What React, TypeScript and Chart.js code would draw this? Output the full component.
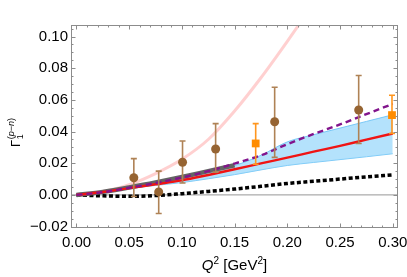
import React, { useEffect, useRef } from "react";
import { Chart, registerables } from "chart.js";

Chart.register(...registerables);

// ---------- data ----------
const curveQ2 = [0, 0.025, 0.05, 0.075, 0.1, 0.125, 0.15, 0.175, 0.2, 0.225, 0.25, 0.275, 0.3];
const redCurve = [0, 0.0018, 0.0043, 0.0067, 0.0092, 0.0126, 0.0162, 0.0199, 0.0235, 0.0273, 0.031, 0.0349, 0.0388];
const bandUpper = [0, 0.0019, 0.0046, 0.0074, 0.0107, 0.0145, 0.0185, 0.025, 0.0335, 0.038, 0.0422, 0.0464, 0.0506];
const bandLower = [0, 0.0017, 0.004, 0.006, 0.0078, 0.0102, 0.0128, 0.0158, 0.0186, 0.0205, 0.0223, 0.0241, 0.026];
const purpleCurve = [0, 0.0017, 0.0045, 0.0075, 0.011, 0.015, 0.0198, 0.025, 0.032, 0.0385, 0.0445, 0.051, 0.0575];
const blackCurve = [0, -0.0006, -0.0009, -0.0004, 0.0008, 0.0022, 0.0037, 0.0054, 0.0072, 0.0086, 0.01, 0.0114, 0.0127];
const pinkCurve = [0, 0.0022, 0.0065, 0.0135, 0.0225, 0.035, 0.053, 0.074, 0.097, 0.121];
const grayQ2 = [0, 0.025, 0.05, 0.075, 0.1, 0.125, 0.15];
const grayCurve = [0, 0.0019, 0.0047, 0.0078, 0.0113, 0.015, 0.0187];

const brownQ2 = [0.0544, 0.078, 0.1006, 0.132, 0.188, 0.2677];
const brownVal = [0.0108, 0.0019, 0.0206, 0.029, 0.0462, 0.0536];
const brownLo = [-0.001, -0.0117, 0.0075, 0.0144, 0.0237, 0.0325];
const brownHi = [0.0229, 0.015, 0.034, 0.045, 0.068, 0.0754];

const orangeQ2 = [0.17, 0.2993];
const orangeVal = [0.0325, 0.0504];
const orangeLo = [0.0194, 0.0388];
const orangeHi = [0.045, 0.0629];

const xTicks = [0, 0.05, 0.1, 0.15, 0.2, 0.25, 0.3];
const yTicks = [-0.02, 0, 0.02, 0.04, 0.06, 0.08, 0.1];
const xMinorStep = 0.01;
const yMinorStep = 0.005;

const X_MIN = -0.0052;
const X_MAX = 0.305;
const Y_MIN = -0.0209;
const Y_MAX = 0.1073;

const FONT = "'Liberation Sans', Arial, Helvetica, sans-serif";

const pts = (xs: number[], ys: number[]) => ys.map((y, i) => ({ x: xs[i], y }));

const fmt = (v: number) => {
  const s = Math.abs(v).toFixed(2);
  return (v < -1e-9 ? "\u2212" : "") + s;
};

const framePlugin = {
  id: "frameTicks",
  beforeDatasetDraw(chart: any, args: any) {
    const ds = chart.data.datasets[args.index];
    const err = ds.errorBars;
    if (!err) return;
    const { ctx, chartArea } = chart;
    const xS = chart.scales.x;
    const yS = chart.scales.y;
    ctx.save();
    ctx.beginPath();
    ctx.rect(chartArea.left, chartArea.top, chartArea.right - chartArea.left, chartArea.bottom - chartArea.top);
    ctx.clip();
    ctx.strokeStyle = err.color;
    ctx.lineWidth = 1.6;
    ds.data.forEach((p: any, i: number) => {
      const px = xS.getPixelForValue(p.x);
      const t = yS.getPixelForValue(err.hi[i]);
      const b = yS.getPixelForValue(err.lo[i]);
      ctx.beginPath();
      ctx.moveTo(px, t);
      ctx.lineTo(px, b);
      ctx.moveTo(px - 3, t);
      ctx.lineTo(px + 3, t);
      ctx.moveTo(px - 3, b);
      ctx.lineTo(px + 3, b);
      ctx.stroke();
    });
    ctx.restore();
  },
  afterDraw(chart: any) {
    const { ctx, chartArea } = chart;
    const { left, right, top, bottom } = chartArea;
    const xS = chart.scales.x;
    const yS = chart.scales.y;
    ctx.save();
    ctx.strokeStyle = "rgb(140,140,140)";
    ctx.lineWidth = 1;
    ctx.strokeRect(left + 0.5, top + 0.5, right - left - 1, bottom - top - 1);
    const major = 4.5;
    const minor = 2.5;
    ctx.beginPath();
    // x ticks
    const nx0 = Math.ceil(X_MIN / xMinorStep - 1e-6);
    const nx1 = Math.floor(X_MAX / xMinorStep + 1e-6);
    for (let n = nx0; n <= nx1; n++) {
      const v = n * xMinorStep;
      const isMajor = xTicks.some((t) => Math.abs(t - v) < 1e-6);
      const len = isMajor ? major : minor;
      const px = Math.round(xS.getPixelForValue(v)) + 0.5;
      ctx.moveTo(px, bottom);
      ctx.lineTo(px, bottom - len);
      ctx.moveTo(px, top);
      ctx.lineTo(px, top + len);
    }
    const ny0 = Math.ceil(Y_MIN / yMinorStep - 1e-6);
    const ny1 = Math.floor(Y_MAX / yMinorStep + 1e-6);
    for (let n = ny0; n <= ny1; n++) {
      const v = n * yMinorStep;
      const isMajor = yTicks.some((t) => Math.abs(t - v) < 1e-6);
      const len = isMajor ? major : minor;
      const py = Math.round(yS.getPixelForValue(v)) + 0.5;
      ctx.moveTo(left, py);
      ctx.lineTo(left + len, py);
      ctx.moveTo(right, py);
      ctx.lineTo(right - len, py);
    }
    ctx.stroke();

    // x-axis title: Q^2 [GeV^2]
    ctx.fillStyle = "#000";
    ctx.textBaseline = "alphabetic";
    const big = `15px ${FONT}`;
    const bigI = `italic 15px ${FONT}`;
    const sup = `10px ${FONT}`;
    const parts: [string, string, number][] = [
      ["Q", bigI, 0],
      ["2", sup, -6],
      [" [GeV", big, 0],
      ["2", sup, -6],
      ["]", big, 0],
    ];
    let total = 0;
    parts.forEach(([t, f]) => {
      ctx.font = f;
      total += ctx.measureText(t).width;
    });
    let x = (left + right) / 2 - total / 2;
    const baseY = 270;
    parts.forEach(([t, f, dy]) => {
      ctx.font = f;
      ctx.fillText(t, x, baseY + dy);
      x += ctx.measureText(t).width;
    });

    // y-axis title: Gamma_1^(p-n)
    ctx.save();
    ctx.translate(20, 147);
    ctx.rotate(-Math.PI / 2);
    ctx.font = `13px ${FONT}`;
    ctx.fillText("\u0393", 0, 0);
    const gw = ctx.measureText("\u0393").width + 0.5;
    ctx.font = `9px ${FONT}`;
    ctx.fillText("1", gw, 3);
    const supParts: [string, boolean][] = [
      ["(", false],
      ["p", true],
      ["\u2212", false],
      ["n", true],
      [")", false],
    ];
    let sx = gw;
    supParts.forEach(([t, it]) => {
      ctx.font = `${it ? "italic " : ""}9px ${FONT}`;
      ctx.fillText(t, sx, -6);
      sx += ctx.measureText(t).width;
    });
    ctx.restore();
    ctx.restore();
  },
};

export default function App() {
  const ref = useRef<HTMLCanvasElement | null>(null);
  useEffect(() => {
    if (!ref.current) return;
    const line = (data: any, color: string, width: number, extra: any = {}) => ({
      type: "line",
      data,
      borderColor: color,
      backgroundColor: color,
      borderWidth: width,
      pointRadius: 0,
      fill: false,
      cubicInterpolationMode: "monotone",
      ...extra,
    });
    const chart = new Chart(ref.current, {
      type: "line",
      data: {
        datasets: [
          {
            type: "line",
            label: "orange",
            data: pts(orangeQ2, orangeVal),
            showLine: false,
            pointStyle: "rect",
            pointRadius: 5.5,
            pointBackgroundColor: "rgb(255,140,0)",
            pointBorderWidth: 0,
            borderColor: "rgb(255,140,0)",
            errorBars: { lo: orangeLo, hi: orangeHi, color: "rgb(255,150,30)" },
            order: 0,
          } as any,
          {
            type: "line",
            label: "brown",
            data: pts(brownQ2, brownVal),
            showLine: false,
            pointStyle: "circle",
            pointRadius: 4.5,
            pointBackgroundColor: "rgb(150,100,50)",
            pointBorderWidth: 0,
            borderColor: "rgb(150,100,50)",
            errorBars: { lo: brownLo, hi: brownHi, color: "rgb(175,130,85)" },
            order: 1,
          } as any,
          line(pts(curveQ2, purpleCurve), "rgb(130,20,140)", 2.4, { borderDash: [6, 4], order: 2 }),
          line(pts(curveQ2, redCurve), "rgb(240,20,20)", 2.4, { order: 3 }),
          line(pts(grayQ2, grayCurve), "rgb(100,100,100)", 4.5, { order: 4 }),
          line(pts(curveQ2, blackCurve), "#000", 3.5, { borderDash: [4, 2.5], order: 5 }),
          line(pts(curveQ2, bandUpper), "rgba(110,195,245,0.9)", 1, {
            fill: "+1",
            backgroundColor: "rgba(140,210,250,0.65)",
            order: 6,
          }),
          line(pts(curveQ2, bandLower), "rgba(110,195,245,0.9)", 1, { order: 7 }),
          line(pts(curveQ2.slice(0, pinkCurve.length), pinkCurve), "rgba(255,170,170,0.55)", 3, { order: 8 }),
          line(
            [
              { x: X_MIN, y: 0 },
              { x: X_MAX, y: 0 },
            ],
            "rgb(150,150,150)",
            1,
            { order: 9 }
          ),
        ] as any,
      },
      options: {
        animation: false,
        responsive: false,
        devicePixelRatio: 1,
        layout: { padding: { left: 0, right: 9, top: 25, bottom: 0 } },
        plugins: { legend: { display: false }, tooltip: { enabled: false } },
        scales: {
          x: {
            type: "linear",
            min: X_MIN,
            max: X_MAX,
            grid: { display: false, drawTicks: false },
            border: { display: false },
            afterBuildTicks: (s: any) => {
              s.ticks = xTicks.map((v) => ({ value: v }));
            },
            afterFit: (s: any) => {
              s.height = 49;
              s.paddingLeft = 0;
              s.paddingRight = 0;
            },
            ticks: {
              autoSkip: false,
              maxRotation: 0,
              padding: 6,
              color: "#000",
              font: { family: FONT, size: 15 },
              callback: (v: any) => fmt(Number(v)),
            },
          },
          y: {
            type: "linear",
            min: Y_MIN,
            max: Y_MAX,
            grid: { display: false, drawTicks: false },
            border: { display: false },
            afterBuildTicks: (s: any) => {
              s.ticks = yTicks.map((v) => ({ value: v }));
            },
            afterFit: (s: any) => {
              s.width = 71;
              s.paddingTop = 0;
              s.paddingBottom = 0;
            },
            ticks: {
              autoSkip: false,
              padding: 3,
              color: "#000",
              font: { family: FONT, size: 15 },
              callback: (v: any) => fmt(Number(v)),
            },
          },
        },
      } as any,
      plugins: [framePlugin as any],
    });
    return () => chart.destroy();
  }, []);
  return (
    <div style={{ position: "absolute", left: 0, top: 0, width: 407, height: 277, background: "#fff" }}>
      <canvas ref={ref} width={407} height={277} style={{ display: "block" }} />
    </div>
  );
}
